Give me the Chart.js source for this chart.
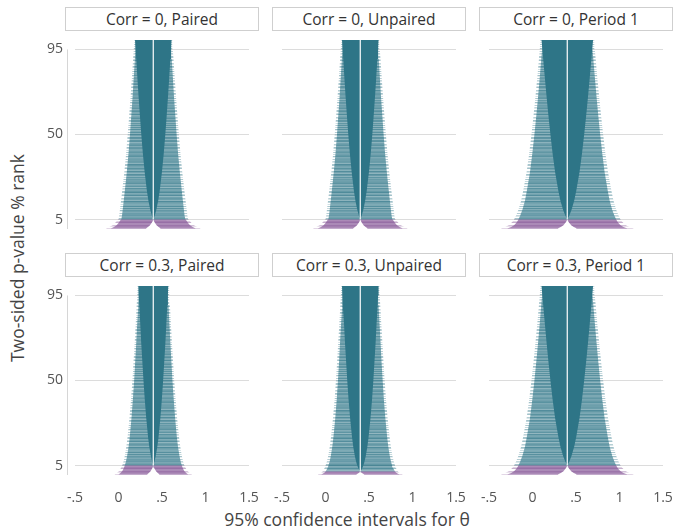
<!DOCTYPE html>
<html>
<head>
<meta charset="utf-8">
<script src="https://cdn.jsdelivr.net/npm/chart.js@4.4.1/dist/chart.umd.min.js"></script>
<style>
  html, body { margin: 0; padding: 0; background: #ffffff; }
  #stage { position: relative; width: 678px; height: 530px; overflow: hidden; font-family: 'Open Sans', sans-serif; }
  .panel { position: absolute; }
  .strip { position: absolute; box-sizing: border-box; border: 1px solid #cfcfcf; background: #fff;
           color: #333; font-size: 15.5px; text-align: center; line-height: 22px; white-space: nowrap; }
  .ytitle { position: absolute; left: 17px; top: 258px; transform: translate(-50%, -50%) rotate(-90deg);
            font-size: 17.5px; color: #444; white-space: nowrap; }
  .xtitle { position: absolute; left: 347px; top: 519px; transform: translate(-50%, -50%);
            font-size: 17.5px; color: #444; white-space: nowrap; }
</style>
</head>
<body>
<div id="stage">
  <div class="ytitle">Two-sided p-value % rank</div>
  <div class="xtitle">95% confidence intervals for θ</div>
</div>
<script>
// ---- facets -------------------------------------------------------------
const facetTitles = [
  "Corr = 0, Paired", "Corr = 0, Unpaired", "Corr = 0, Period 1",
  "Corr = 0.3, Paired", "Corr = 0.3, Unpaired", "Corr = 0.3, Period 1"
];

// ---- axes ---------------------------------------------------------------
const xTickValues = [-0.5, 0, 0.5, 1, 1.5];
const xTickText   = ["-.5", "0", ".5", "1", "1.5"];
const yTickValues = [5, 50, 95];
const trueTheta = 0.4;          // simulated treatment effect

// ---- intervals that still cover θ (teal), by p-value % rank --------------
const coverRanks = [
  [100, 95, 90, 80, 70, 60, 50, 40, 30, 20, 15, 10, 7, 5],
  [100, 95, 90, 80, 70, 60, 50, 40, 30, 20, 15, 10, 7, 5],
  [100, 95, 90, 80, 70, 60, 50, 40, 30, 20, 15, 10, 7, 5],
  [100, 95, 90, 80, 70, 60, 50, 40, 30, 20, 15, 10, 7, 5],
  [100, 95, 90, 80, 70, 60, 50, 40, 30, 20, 15, 10, 7, 5, 4, 3, 1.9],
  [100, 95, 90, 80, 70, 60, 50, 40, 30, 20, 15, 10, 7, 5]
];
// Half-width (θ units, around θ) of the region every interval covers.
const coreHalf = [
  [0.210, 0.203, 0.196, 0.183, 0.169, 0.154, 0.138, 0.120, 0.099, 0.073, 0.056, 0.034, 0.016, 0],
  [0.210, 0.203, 0.196, 0.183, 0.169, 0.154, 0.138, 0.120, 0.099, 0.073, 0.056, 0.034, 0.016, 0],
  [0.296, 0.286, 0.277, 0.258, 0.238, 0.217, 0.194, 0.169, 0.140, 0.102, 0.079, 0.048, 0.022, 0],
  [0.172, 0.167, 0.161, 0.150, 0.139, 0.126, 0.113, 0.098, 0.081, 0.060, 0.046, 0.028, 0.013, 0],
  [0.210, 0.204, 0.199, 0.187, 0.176, 0.163, 0.150, 0.135, 0.117, 0.095, 0.081, 0.063, 0.048, 0.035, 0.026, 0.016, 0],
  [0.296, 0.286, 0.277, 0.258, 0.238, 0.217, 0.194, 0.169, 0.140, 0.102, 0.079, 0.048, 0.022, 0]
];
// Half-width reached by most interval ends.
const streakHalf = [
  [0.202, 0.206, 0.212, 0.225, 0.238, 0.253, 0.268, 0.285, 0.305, 0.328, 0.340, 0.352, 0.360, 0.368],
  [0.202, 0.206, 0.212, 0.225, 0.238, 0.253, 0.268, 0.285, 0.305, 0.328, 0.340, 0.352, 0.360, 0.368],
  [0.285, 0.290, 0.299, 0.317, 0.336, 0.356, 0.378, 0.402, 0.429, 0.466, 0.487, 0.517, 0.542, 0.562],
  [0.166, 0.169, 0.175, 0.185, 0.196, 0.208, 0.220, 0.235, 0.251, 0.271, 0.284, 0.301, 0.315, 0.328],
  [0.202, 0.205, 0.210, 0.221, 0.233, 0.244, 0.257, 0.271, 0.288, 0.309, 0.322, 0.339, 0.353, 0.366, 0.374, 0.384, 0.399],
  [0.285, 0.290, 0.299, 0.317, 0.336, 0.356, 0.378, 0.402, 0.429, 0.466, 0.487, 0.517, 0.542, 0.562]
];
// Half-width of the longest interval ends.
const tailHalf = [
  [0.218, 0.224, 0.232, 0.246, 0.261, 0.277, 0.294, 0.312, 0.333, 0.358, 0.371, 0.384, 0.392, 0.400],
  [0.218, 0.224, 0.232, 0.246, 0.261, 0.277, 0.294, 0.312, 0.333, 0.358, 0.371, 0.384, 0.392, 0.400],
  [0.310, 0.316, 0.326, 0.345, 0.366, 0.388, 0.412, 0.438, 0.468, 0.508, 0.531, 0.563, 0.590, 0.612],
  [0.181, 0.184, 0.191, 0.202, 0.214, 0.227, 0.240, 0.256, 0.274, 0.296, 0.310, 0.328, 0.343, 0.357],
  [0.220, 0.223, 0.229, 0.241, 0.254, 0.266, 0.280, 0.295, 0.314, 0.337, 0.351, 0.369, 0.385, 0.399, 0.407, 0.418, 0.434],
  [0.310, 0.316, 0.326, 0.345, 0.366, 0.388, 0.412, 0.438, 0.468, 0.508, 0.531, 0.563, 0.590, 0.612]
];

// ---- intervals that miss θ (purple), by p-value % rank -------------------
const missRanks = [
  [5, 4, 3, 2, 1, 0.2],
  [5, 4, 3, 2, 1, 0.2],
  [5, 4, 3, 2, 1, 0.2],
  [5, 4, 3, 2, 1, 0.2],
  [1.9, 1.5, 1, 0.6, 0.2],
  [5, 4, 3, 2, 1, 0.2]
];
// Distance from θ to the near end of the intervals.
const notchHalf = [
  [0, 0.010, 0.022, 0.038, 0.062, 0.085],
  [0, 0.010, 0.022, 0.038, 0.062, 0.085],
  [0, 0.012, 0.026, 0.045, 0.075, 0.110],
  [0, 0.008, 0.018, 0.032, 0.052, 0.072],
  [0, 0.007, 0.019, 0.032, 0.048],
  [0, 0.012, 0.026, 0.045, 0.075, 0.110]
];
// Distance from θ to the far end (most intervals / longest).
const missHalf = [
  [0.372, 0.388, 0.402, 0.422, 0.452, 0.488],
  [0.372, 0.388, 0.402, 0.422, 0.452, 0.488],
  [0.562, 0.575, 0.590, 0.612, 0.645, 0.690],
  [0.328, 0.336, 0.345, 0.358, 0.378, 0.400],
  [0.399, 0.406, 0.418, 0.432, 0.450],
  [0.562, 0.575, 0.590, 0.612, 0.645, 0.690]
];
const missTailHalf = [
  [0.405, 0.424, 0.442, 0.468, 0.505, 0.545],
  [0.405, 0.424, 0.442, 0.468, 0.505, 0.545],
  [0.610, 0.628, 0.648, 0.675, 0.712, 0.765],
  [0.358, 0.368, 0.380, 0.396, 0.418, 0.445],
  [0.432, 0.440, 0.453, 0.470, 0.490],
  [0.610, 0.628, 0.648, 0.675, 0.712, 0.765]
];

// ---- styling ------------------------------------------------------------
const TEAL_RGB = "46,117,135";
const PURPLE_RGB = "128,78,145";
const TEAL_DARK = "rgb(" + TEAL_RGB + ")";
const PURPLE_MAIN = "rgba(" + PURPLE_RGB + ",0.66)";
// Row-by-row opacity of the thin interval lines (gives the streaked look).
const streakShades = [0.62, 0.55, 0.68, 0.58, 0.72, 0.60, 0.54, 0.66, 0.63, 0.52, 0.70, 0.59,
                      0.65, 0.56, 0.74, 0.61, 0.57, 0.67, 0.53, 0.69, 0.60, 0.64, 0.55, 0.71,
                      0.58, 0.66, 0.51, 0.63, 0.68, 0.57, 0.73, 0.60, 0.54, 0.65, 0.62, 0.56, 0.70];
// Ragged ends: only some rows reach the outer edge.
const tailShades = [0.40, 0, 0.25, 0.45, 0, 0, 0.35, 0.18, 0, 0.45, 0.30, 0, 0.22, 0,
                    0.40, 0, 0.28, 0, 0.45, 0.12, 0, 0.36, 0, 0.30, 0.18, 0, 0.42];

function stripePattern(rgb, shades) {
  const c = document.createElement("canvas");
  c.width = 1; c.height = shades.length;
  const g = c.getContext("2d");
  shades.forEach((a, i) => {
    g.fillStyle = "rgba(" + rgb + "," + a + ")";
    g.fillRect(0, i, 1, 1);
  });
  return g.createPattern(c, "repeat");
}
const STREAK = stripePattern(TEAL_RGB, streakShades);
const TEAL_TAIL = stripePattern(TEAL_RGB, tailShades);
const PURPLE_TAIL = stripePattern(PURPLE_RGB, tailShades);

Chart.defaults.font.family = "'Open Sans', sans-serif";

// ---- layout of the 2 x 3 grid ------------------------------------------
const plotLeft = [75, 282, 489];
const plotTop = [40, 286];
const plotW = 174, plotH = 189;
const padL = 40, padT = 10, padR = 22, padB = 30;

// Closed outline of a band symmetric about θ.
function bandShape(ranks, half) {
  const left = ranks.map((r, i) => ({ x: trueTheta - half[i], y: r }));
  const right = ranks.map((r, i) => ({ x: trueTheta + half[i], y: r })).reverse();
  return left.concat(right);
}
// Closed outline of the intervals lying entirely on one side of θ.
function lobeShape(ranks, far, near, side) {
  const outer = ranks.map((r, i) => ({ x: trueTheta + side * far[i], y: r }));
  const inner = ranks.map((r, i) => ({ x: trueTheta + side * near[i], y: r })).reverse();
  return outer.concat(inner);
}
function shapeSet(points, color, order) {
  return {
    data: points, showLine: true, fill: "shape", backgroundColor: color,
    borderColor: "transparent", borderWidth: 0, pointRadius: 0, pointHoverRadius: 0,
    tension: 0, order: order
  };
}
function noScalePadding(s) {
  s.paddingTop = 0; s.paddingBottom = 0; s.paddingLeft = 0; s.paddingRight = 0;
}

const yAxisLine = {
  id: "yAxisLine",
  afterDraw(chart, args, opts) {
    if (!opts.show) return;
    const { ctx, chartArea, scales } = chart;
    const x = Math.round(chartArea.left - 8) + 0.5;
    ctx.save();
    ctx.strokeStyle = "#d6d6d6";
    ctx.lineWidth = 1;
    ctx.beginPath();
    ctx.moveTo(x, scales.y.getPixelForValue(95));
    ctx.lineTo(x, scales.y.getPixelForValue(0));
    ctx.stroke();
    ctx.restore();
  }
};

const stage = document.getElementById("stage");

facetTitles.forEach((title, p) => {
  const col = p % 3, row = Math.floor(p / 3);
  const left = plotLeft[col], top = plotTop[row];

  const strip = document.createElement("div");
  strip.className = "strip";
  strip.style.left = (left - 10) + "px";
  strip.style.top = (top - 33) + "px";
  strip.style.width = (plotW + 20) + "px";
  strip.style.height = "24px";
  strip.textContent = title;
  stage.appendChild(strip);

  const canvas = document.createElement("canvas");
  canvas.className = "panel";
  canvas.width = padL + plotW + padR;
  canvas.height = padT + plotH + padB;
  canvas.style.left = (left - padL) + "px";
  canvas.style.top = (top - padT) + "px";
  stage.appendChild(canvas);

  const ranks = coverRanks[p];
  const mr = missRanks[p];
  const datasets = [
    { data: [{ x: trueTheta, y: ranks[ranks.length - 1] }, { x: trueTheta, y: 100 }],
      showLine: true, fill: false, borderColor: "rgba(255,255,255,0.85)", borderWidth: 1.4,
      pointRadius: 0, pointHoverRadius: 0, order: 0 },
    shapeSet(bandShape(ranks, coreHalf[p]), TEAL_DARK, 1),
    shapeSet(lobeShape(mr, missHalf[p], notchHalf[p], -1), PURPLE_MAIN, 2),
    shapeSet(lobeShape(mr, missHalf[p], notchHalf[p], 1), PURPLE_MAIN, 2),
    shapeSet(bandShape(ranks, streakHalf[p]), STREAK, 3),
    shapeSet(lobeShape(mr, missTailHalf[p], notchHalf[p], -1), PURPLE_TAIL, 4),
    shapeSet(lobeShape(mr, missTailHalf[p], notchHalf[p], 1), PURPLE_TAIL, 4),
    shapeSet(bandShape(ranks, tailHalf[p]), TEAL_TAIL, 5)
  ];

  new Chart(canvas, {
    type: "scatter",
    data: { datasets },
    plugins: [yAxisLine],
    options: {
      responsive: false,
      devicePixelRatio: 1,
      animation: false,
      events: [],
      layout: { padding: { left: 0, top: padT, right: padR, bottom: 0 } },
      plugins: { legend: { display: false }, tooltip: { enabled: false }, yAxisLine: { show: col === 0 } },
      scales: {
        x: {
          type: "linear", min: -0.5, max: 1.5,
          afterBuildTicks: s => { s.ticks = xTickValues.map(v => ({ value: v })); },
          afterFit: s => { s.height = padB; noScalePadding(s); },
          grid: { display: false },
          border: { display: false },
          ticks: {
            display: row === 1, autoSkip: false, maxRotation: 0, padding: 7,
            color: "#555", font: { size: 14 },
            callback: v => xTickText[xTickValues.indexOf(v)]
          }
        },
        y: {
          type: "linear", min: 0, max: 100,
          afterBuildTicks: s => { s.ticks = yTickValues.map(v => ({ value: v })); },
          afterFit: s => { s.width = padL; noScalePadding(s); },
          grid: { color: "#dcdcdc", lineWidth: 1, drawTicks: false },
          border: { display: false },
          ticks: { display: col === 0, padding: 12, color: "#555", font: { size: 14 } }
        }
      }
    }
  });
});
</script>
</body>
</html>
